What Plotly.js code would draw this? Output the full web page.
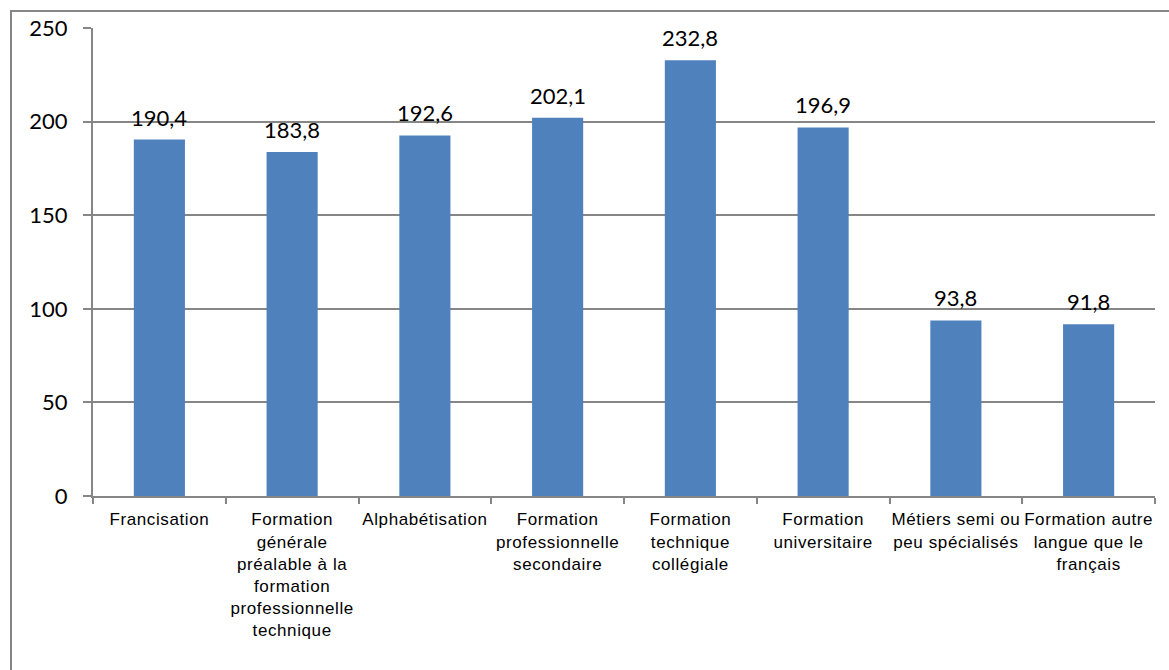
<!DOCTYPE html>
<html><head><meta charset="utf-8">
<script src="https://cdn.plot.ly/plotly-3.0.1.min.js"></script>
<style>html,body{margin:0;padding:0;background:#fff;}#chart{width:1169px;height:670px;}
#chart .xtick text{letter-spacing:0.6px;}</style>
</head><body><div id="chart"></div>
<script>
const categories = [
  "Francisation",
  "Formation<br>générale<br>préalable à la<br>formation<br>professionnelle<br>technique",
  "Alphabétisation",
  "Formation<br>professionnelle<br>secondaire",
  "Formation<br>technique<br>collégiale",
  "Formation<br>universitaire",
  "Métiers semi ou<br>peu spécialisés",
  "Formation autre<br>langue que le<br>français"
];
const values = [190.4, 183.8, 192.6, 202.1, 232.8, 196.9, 93.8, 91.8];
const yTicks = [0, 50, 100, 150, 200, 250];

const labels = values.map(v => v.toFixed(1).replace('.', ','));
const numFont = {family: 'Lato, "Open Sans", sans-serif', size: 22, color: '#000'};

const trace = {
  type: 'bar',
  x: categories,
  y: values,
  marker: {color: '#4F81BD'},
  hoverinfo: 'none'
};

const annotations = categories.map((c, i) => ({
  x: c, y: values[i], xref: 'x', yref: 'y',
  text: labels[i], showarrow: false,
  yanchor: 'bottom', yshift: 7,
  font: numFont
}));

const layout = {
  width: 1169, height: 670,
  margin: {l: 93, r: 14, t: 28, b: 174},
  paper_bgcolor: '#fff', plot_bgcolor: '#fff',
  bargap: 0.615,
  showlegend: false,
  xaxis: {
    tickson: 'boundaries', ticks: 'outside', ticklen: 6, tickcolor: '#868686', tickwidth: 2,
    showline: true, linecolor: '#868686', linewidth: 2,
    tickfont: {family: '"Liberation Sans", Arial, sans-serif', size: 17, color: '#000'},
    tickangle: 0, showgrid: false, ticklabelstandoff: 7
  },
  yaxis: {
    range: [0, 250], tickvals: yTicks, ticktext: yTicks.map(String),
    ticks: 'outside', ticklen: 8, tickcolor: '#868686', tickwidth: 2,
    showline: true, linecolor: '#868686', linewidth: 2,
    showgrid: true, gridcolor: '#868686', gridwidth: 2,
    zeroline: false,
    tickfont: numFont,
    ticklabelstandoff: 11
  },
  annotations: annotations,
  shapes: [{
    type: 'rect', xref: 'paper', yref: 'paper',
    x0: (11 - 93) / 1062, x1: (1190 - 93) / 1062,
    y0: (496 - 700) / 468, y1: (496 - 11) / 468,
    line: {color: '#868686', width: 2}, fillcolor: 'rgba(0,0,0,0)', layer: 'below'
  }]
};

Plotly.newPlot('chart', [trace], layout, {staticPlot: true});
</script></body></html>
